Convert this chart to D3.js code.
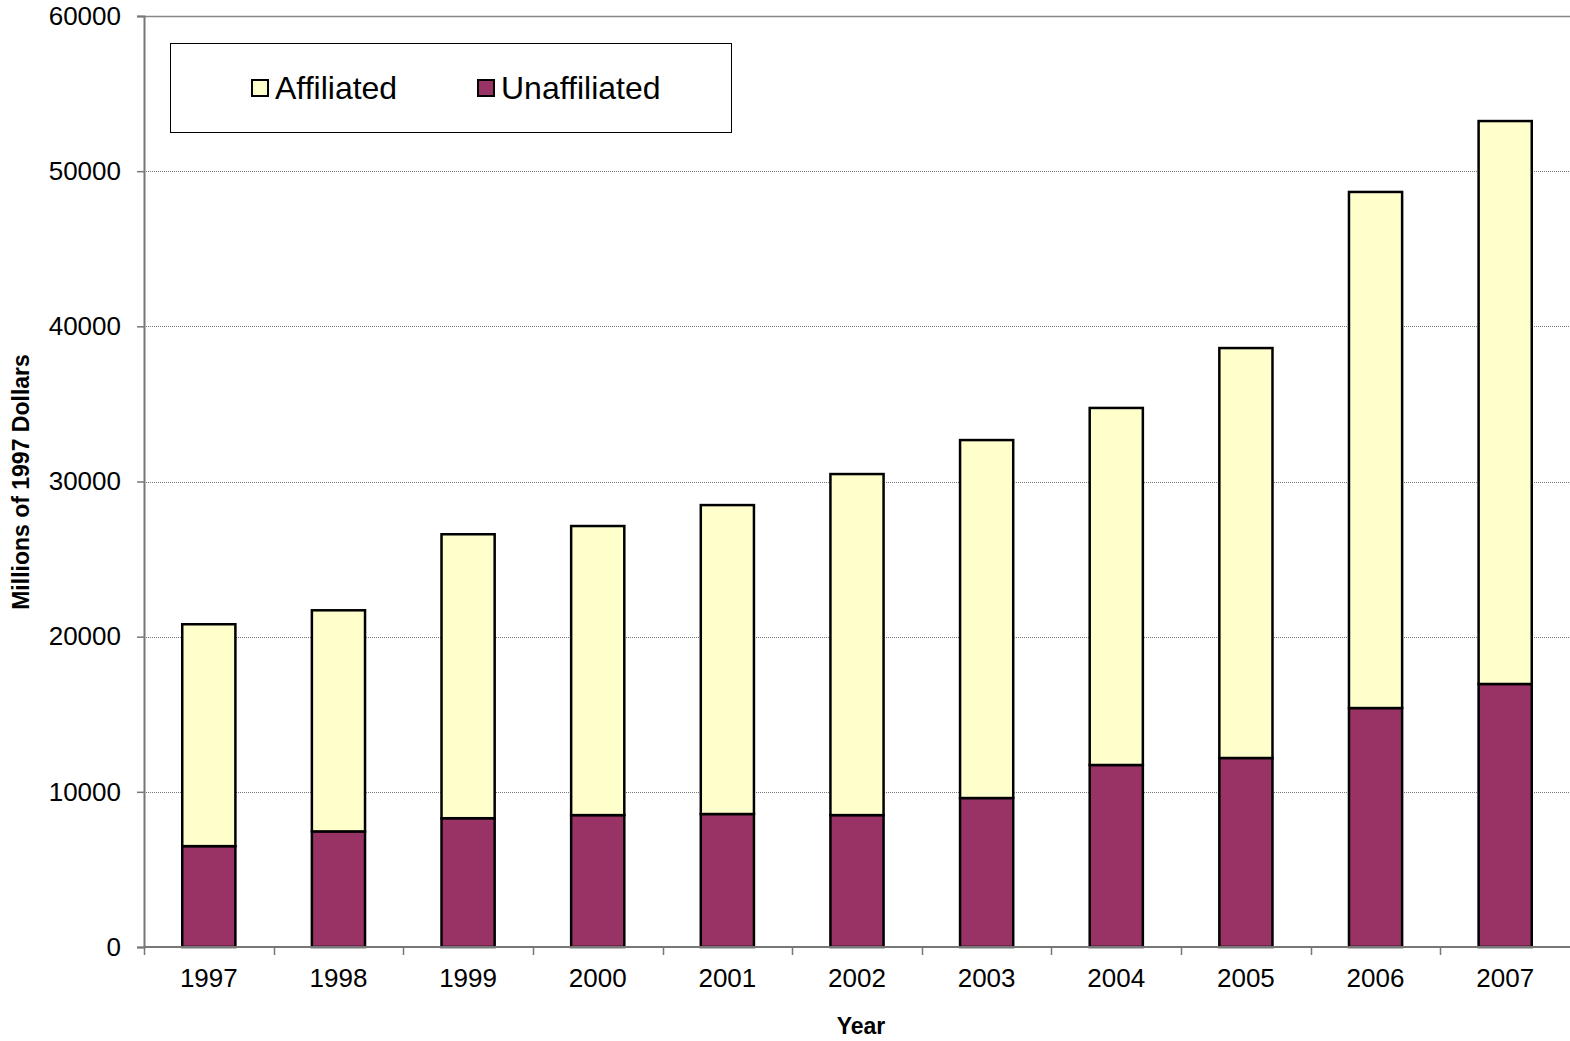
<!DOCTYPE html>
<html>
<head>
<meta charset="utf-8">
<script src="https://cdn.jsdelivr.net/npm/d3@7"></script>
<style>
  body { margin: 0; background: #fff; }
  svg { display: block; font-family: "Liberation Sans", Arial, sans-serif; }
</style>
</head>
<body>
<div id="chart"></div>
<script>
// data
const years = ['1997', '1998', '1999', '2000', '2001', '2002', '2003', '2004', '2005', '2006', '2007'];
const unaffiliated = [6500, 7450, 8300, 8500, 8570, 8500, 9600, 11730, 12180, 15400, 16950];
const affiliated = [14300, 14250, 18300, 18630, 19910, 21980, 23070, 23010, 26420, 33260, 36280];
const yTicks = [0, 10000, 20000, 30000, 40000, 50000, 60000];
const seriesNames = ['Affiliated', 'Unaffiliated'];
const seriesColors = { Affiliated: '#ffffcc', Unaffiliated: '#993366' };

const config = {
  width: 1570,
  height: 1041,
  margin: { top: 16, right: 0, bottom: 94, left: 144 }
};

const innerW = config.width - config.margin.left - config.margin.right;
const innerH = config.height - config.margin.top - config.margin.bottom;

const svg = d3.select('#chart').append('svg')
  .attr('width', config.width)
  .attr('height', config.height);

const g = svg.append('g')
  .attr('transform', `translate(${config.margin.left},${config.margin.top})`);

const x = d3.scaleBand()
  .domain(years)
  .range([0, innerW])
  .padding(0);

const y = d3.scaleLinear()
  .domain([0, 60000])
  .range([innerH, 0]);

// gridlines
g.selectAll('.grid')
  .data(yTicks.filter(d => d > 0 && d < 60000))
  .enter().append('line')
  .attr('class', 'grid')
  .attr('x1', 0)
  .attr('x2', innerW)
  .attr('y1', d => Math.round(y(d)) + 0.5)
  .attr('y2', d => Math.round(y(d)) + 0.5)
  .attr('stroke', '#777')
  .attr('stroke-dasharray', '1,1');

// top border
g.append('line')
  .attr('x1', 0).attr('x2', innerW)
  .attr('y1', 0.5).attr('y2', 0.5)
  .attr('stroke', '#888')
  .attr('stroke-width', 1.5);

// stacked bars
const table = years.map((yr, i) => ({ year: yr, Unaffiliated: unaffiliated[i], Affiliated: affiliated[i] }));
const stack = d3.stack().keys(['Unaffiliated', 'Affiliated'])(table);

const barW = x.bandwidth() * 0.41;

g.selectAll('.layer')
  .data(stack)
  .enter().append('g')
  .attr('class', 'layer')
  .attr('fill', d => seriesColors[d.key])
  .selectAll('rect')
  .data(d => d)
  .enter().append('rect')
  .attr('x', d => x(d.data.year) + (x.bandwidth() - barW) / 2)
  .attr('y', d => y(d[1]))
  .attr('width', barW)
  .attr('height', d => y(d[0]) - y(d[1]))
  .attr('stroke', '#000')
  .attr('stroke-width', 2.5);

// y axis
const yAxis = g.append('g')
  .call(d3.axisLeft(y).tickValues(yTicks).tickSize(7).tickFormat(d3.format('d')));
yAxis.select('.domain').attr('stroke', '#777').attr('stroke-width', 2);
yAxis.selectAll('.tick line').attr('stroke', '#777').attr('stroke-width', 1.5);
yAxis.selectAll('.tick text')
  .attr('x', -23)
  .attr('font-size', 26)
  .attr('font-family', '"Liberation Sans", Arial, sans-serif')
  .attr('fill', '#000');

// x axis: ticks at category boundaries
const xAxisG = g.append('g')
  .attr('transform', `translate(0,${innerH})`);
xAxisG.append('line')
  .attr('x1', 0).attr('x2', innerW)
  .attr('y1', 0).attr('y2', 0)
  .attr('stroke', '#777').attr('stroke-width', 2);
xAxisG.selectAll('.xtick')
  .data(years)
  .enter().append('line')
  .attr('x1', d => Math.round(x(d)) + 0.5)
  .attr('x2', d => Math.round(x(d)) + 0.5)
  .attr('y1', 0).attr('y2', 8)
  .attr('stroke', '#777').attr('stroke-width', 1.5);
xAxisG.selectAll('.xlabel')
  .data(years)
  .enter().append('text')
  .attr('x', d => x(d) + x.bandwidth() / 2)
  .attr('y', 40)
  .attr('text-anchor', 'middle')
  .attr('font-size', 26)
  .text(d => d);

// axis titles
svg.append('text')
  .attr('x', 861)
  .attr('y', 1034)
  .attr('text-anchor', 'middle')
  .attr('font-size', 23)
  .attr('font-weight', 'bold')
  .text('Year');

svg.append('text')
  .attr('transform', 'translate(29,482) rotate(-90)')
  .attr('text-anchor', 'middle')
  .attr('font-size', 23)
  .attr('font-weight', 'bold')
  .text('Millions of 1997 Dollars');

// legend
const legend = svg.append('g');
legend.append('rect')
  .attr('x', 170.5).attr('y', 43.5)
  .attr('width', 561).attr('height', 89)
  .attr('fill', '#fff')
  .attr('stroke', '#000')
  .attr('stroke-width', 1);

const legendX = [252, 478];
seriesNames.forEach((name, i) => {
  legend.append('rect')
    .attr('x', legendX[i]).attr('y', 80)
    .attr('width', 16).attr('height', 16)
    .attr('fill', seriesColors[name])
    .attr('stroke', '#000')
    .attr('stroke-width', 2);
  legend.append('text')
    .attr('x', legendX[i] + 23)
    .attr('y', 99)
    .attr('font-size', 32)
    .text(name);
});
</script>
</body>
</html>
